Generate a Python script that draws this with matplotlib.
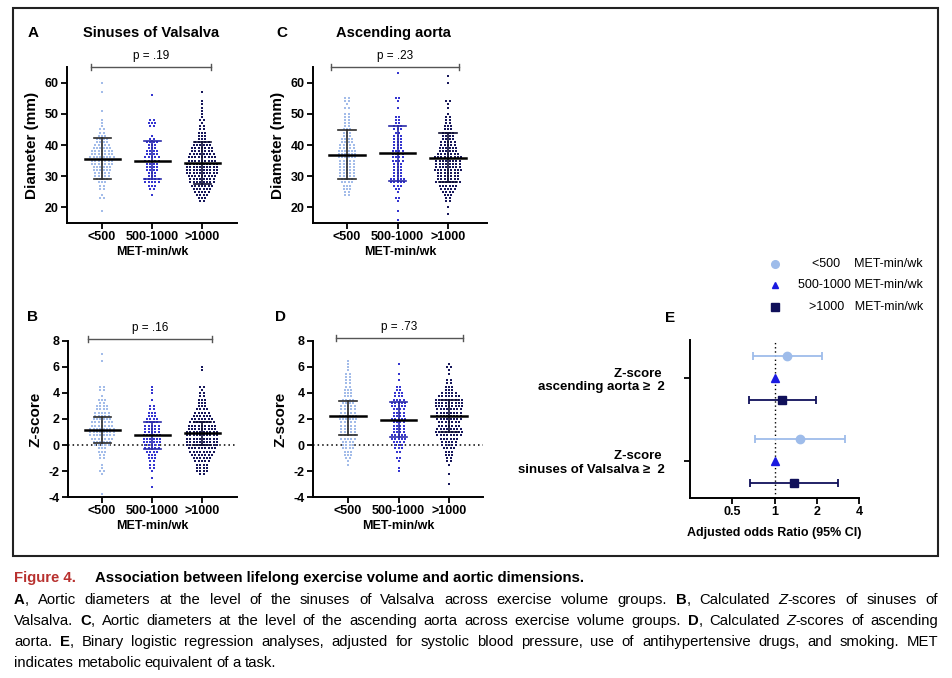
import numpy as np
import matplotlib
matplotlib.use('Agg')
import matplotlib.pyplot as plt
from matplotlib.patches import Rectangle
from matplotlib.font_manager import FontProperties, findfont

W, H = 952, 678
plt.rcParams['font.family'] = ['Liberation Sans', 'DejaVu Sans']
plt.rcParams['axes.unicode_minus'] = False

groups = ['<500', '500-1000', '>1000']
dot_colors = ['#a3bce9', '#3535d0', '#17175a']
sd_colors = ['#2b2b2b', '#2a2aa8', '#0e0e33']

# ---- A: sinuses of Valsalva diameter (mm), value / number of subjects ----
a_vals = [[19, 23, 24, 26, 27, 28, 29, 30, 31, 32, 33, 34, 35, 36, 37, 38, 39, 40, 41, 42, 43, 44, 45, 46, 47, 48, 51, 57, 60],
          [24, 26, 27, 28, 29, 30, 31, 32, 33, 34, 35, 36, 37, 38, 39, 40, 41, 42, 43, 46, 47, 48, 56],
          [22, 23, 24, 25, 26, 27, 28, 29, 30, 31, 32, 33, 34, 35, 36, 37, 38, 39, 40, 41, 42, 43, 44, 45, 46, 47, 48, 49, 50, 51, 52, 53, 54, 57]]
a_counts = [[1, 2, 1, 2, 2, 3, 4, 5, 5, 6, 6, 7, 7, 8, 7, 7, 6, 5, 4, 4, 3, 2, 2, 1, 1, 1, 1, 1, 1],
            [1, 2, 3, 5, 5, 3, 3, 4, 4, 4, 5, 5, 4, 4, 3, 3, 4, 2, 1, 2, 3, 2, 1],
            [2, 3, 4, 5, 6, 7, 8, 8, 9, 10, 10, 10, 10, 9, 9, 8, 7, 7, 6, 5, 3, 3, 3, 2, 2, 1, 2, 1, 1, 1, 1, 1, 1, 1]]
a_mean = [35.6, 35.0, 34.3]
a_hi = [42.3, 41.2, 40.9]
a_lo = [29.0, 29.0, 27.4]

# ---- C: ascending aorta diameter (mm) ----
c_vals = [[24, 25, 26, 27, 28, 29, 30, 31, 32, 33, 34, 35, 36, 37, 38, 39, 40, 41, 42, 43, 44, 45, 46, 47, 48, 49, 50, 52, 53, 54, 55],
          [16, 19, 22, 23, 25, 26, 27, 28, 29, 30, 31, 32, 33, 34, 35, 36, 37, 38, 39, 40, 41, 42, 43, 44, 45, 46, 47, 48, 49, 52, 54, 55, 63],
          [18, 20, 22, 23, 24, 25, 26, 27, 28, 29, 30, 31, 32, 33, 34, 35, 36, 37, 38, 39, 40, 41, 42, 43, 44, 45, 46, 47, 48, 49, 50, 52, 53, 54, 60, 62]]
c_counts = [[2, 2, 3, 3, 4, 4, 5, 5, 5, 5, 5, 5, 6, 6, 6, 5, 5, 4, 4, 3, 3, 3, 2, 2, 2, 2, 2, 2, 1, 2, 2],
            [1, 1, 1, 2, 1, 2, 3, 5, 5, 3, 3, 3, 3, 3, 4, 4, 4, 4, 3, 3, 3, 3, 3, 2, 3, 3, 2, 2, 2, 1, 1, 2, 1],
            [1, 1, 2, 2, 3, 4, 5, 6, 8, 7, 7, 7, 9, 8, 8, 8, 9, 7, 6, 6, 5, 5, 4, 4, 4, 3, 3, 2, 2, 2, 1, 1, 1, 2, 1, 1]]
c_mean = [36.9, 37.4, 35.7]
c_hi = [44.7, 46.0, 43.8]
c_lo = [29.0, 28.6, 28.2]

# ---- B: Z-score sinuses of Valsalva ----
b_vals = [[-3.75, -2.25, -2.0, -1.75, -1.5, -1.0, -0.75, -0.5, -0.25, 0.0, 0.25, 0.5, 0.75, 1.0, 1.25, 1.5, 1.75, 2.0, 2.25, 2.5, 2.75, 3.0, 3.25, 3.5, 3.75, 4.25, 4.5, 6.5, 7.0],
          [-3.25, -2.5, -2.0, -1.75, -1.5, -1.25, -1.0, -0.75, -0.5, -0.25, 0.0, 0.25, 0.5, 0.75, 1.0, 1.25, 1.5, 1.75, 2.0, 2.25, 2.5, 2.75, 3.0, 3.5, 4.0, 4.25, 4.5],
          [-2.25, -2.0, -1.75, -1.5, -1.25, -1.0, -0.75, -0.5, -0.25, 0.0, 0.25, 0.5, 0.75, 1.0, 1.25, 1.5, 1.75, 2.0, 2.25, 2.5, 2.75, 3.0, 3.25, 3.5, 3.75, 4.0, 4.25, 4.5, 5.75, 6.0]]
b_counts = [[1, 1, 2, 1, 1, 2, 2, 3, 3, 5, 6, 7, 8, 8, 8, 7, 7, 6, 5, 5, 4, 4, 2, 3, 1, 2, 2, 1, 1],
            [1, 1, 1, 2, 2, 2, 3, 3, 4, 5, 5, 6, 6, 6, 5, 5, 5, 4, 4, 3, 3, 2, 2, 1, 1, 1, 1],
            [2, 4, 4, 4, 5, 6, 7, 8, 9, 10, 10, 10, 10, 10, 9, 9, 8, 7, 6, 5, 4, 3, 3, 3, 2, 2, 1, 2, 1, 1]]
b_mean = [1.18, 0.74, 0.90]
b_hi = [2.13, 1.74, 1.79]
b_lo = [0.18, -0.28, -0.03]

# ---- D: Z-score ascending aorta ----
d_vals = [[-1.5, -1.25, -1.0, -0.75, -0.5, -0.25, 0.0, 0.25, 0.5, 0.75, 1.0, 1.25, 1.5, 1.75, 2.0, 2.25, 2.5, 2.75, 3.0, 3.25, 3.5, 3.75, 4.0, 4.25, 4.5, 4.75, 5.0, 5.25, 5.5, 5.75, 6.0, 6.25, 6.5],
          [-2.0, -1.75, -1.25, -1.0, -0.5, -0.25, 0.0, 0.25, 0.5, 0.75, 1.0, 1.25, 1.5, 1.75, 2.0, 2.25, 2.5, 2.75, 3.0, 3.25, 3.5, 3.75, 4.0, 4.25, 4.5, 5.0, 5.5, 6.25],
          [-3.0, -2.25, -1.5, -1.25, -1.0, -0.75, -0.5, -0.25, 0.0, 0.25, 0.5, 0.75, 1.0, 1.25, 1.5, 1.75, 2.0, 2.25, 2.5, 2.75, 3.0, 3.25, 3.5, 3.75, 4.0, 4.25, 4.5, 4.75, 5.0, 5.5, 5.75, 6.0, 6.25]]
d_counts = [[1, 1, 2, 3, 3, 4, 4, 4, 5, 5, 5, 5, 5, 5, 6, 6, 5, 5, 5, 4, 4, 3, 3, 3, 2, 2, 2, 2, 2, 1, 1, 1, 1],
            [1, 1, 1, 2, 2, 3, 3, 4, 5, 5, 4, 4, 4, 4, 5, 4, 4, 4, 5, 5, 4, 3, 3, 2, 2, 1, 1, 1],
            [1, 1, 1, 2, 2, 3, 3, 4, 5, 5, 6, 8, 9, 8, 7, 7, 8, 8, 8, 8, 9, 9, 9, 7, 5, 3, 3, 2, 2, 1, 1, 2, 1]]
d_mean = [2.23, 1.95, 2.23]
d_hi = [3.36, 3.33, 3.50]
d_lo = [0.74, 0.62, 1.00]

# ---- E: adjusted odds ratios (reference 500-1000) ----
outcomes = ['Z-score \nsinuses of Valsalva \u2265  2', 'Z-score \nascending aorta \u2265  2']
or_low = [1.51, 1.22]
or_low_ci_lo = [0.73, 0.70]
or_low_ci_hi = [3.17, 2.17]
or_ref = [1.0, 1.0]
or_high = [1.37, 1.14]
or_high_ci_lo = [0.67, 0.66]
or_high_ci_hi = [2.83, 1.97]
legend_labels = ['<500    MET-min/wk', '500-1000 MET-min/wk', '>1000   MET-min/wk']
e_colors = ['#9ebcea', '#1a1ae0', '#10105a']

caption_title = 'Association between lifelong exercise volume and aortic dimensions.'
caption_lines = [
    '^A^, Aortic diameters at the level of the sinuses of Valsalva across exercise volume groups. ^B^, Calculated ~Z~-scores of sinuses of',
    'Valsalva. ^C^, Aortic diameters at the level of the ascending aorta across exercise volume groups. ^D^, Calculated ~Z~-scores of ascending',
    'aorta. ^E^, Binary logistic regression analyses, adjusted for systolic blood pressure, use of antihypertensive drugs, and smoking. MET',
    'indicates metabolic equivalent of a task.',
]

fig = plt.figure(figsize=(W / 100, H / 100), dpi=100)


def px(x0, y0, x1, y1):
    return [x0 / W, 1 - y1 / H, (x1 - x0) / W, (y1 - y0) / H]


def style_axis(ax):
    for s in ['top', 'right']:
        ax.spines[s].set_visible(False)
    for s in ['left', 'bottom']:
        ax.spines[s].set_linewidth(1.4)
    ax.tick_params(direction='out', length=4, width=1.3, labelsize=9, pad=2)
    for lab in ax.get_xticklabels() + ax.get_yticklabels():
        lab.set_fontweight('bold')


def dot_panel(box, xlim, ylim, yticks, vals, counts, mean, hi, lo, ylabel, p_text, p_y, br, zero=False):
    ax = fig.add_axes(px(*box))
    for i in range(3):
        xs, ys = [], []
        for v, n in zip(vals[i], counts[i]):
            xs += list(i + (np.arange(n) - (n - 1) / 2) * 0.066)
            ys += [v] * n
        ax.scatter(xs, ys, s=3, marker='s', color=dot_colors[i], linewidths=0, zorder=2)
        ax.plot([i - 0.35, i + 0.35], [mean[i]] * 2, color='black', lw=1.8, zorder=4)
        ax.plot([i, i], [lo[i], hi[i]], color=sd_colors[i], lw=1.2, zorder=3)
        for yy in (lo[i], hi[i]):
            ax.plot([i - 0.17, i + 0.17], [yy, yy], color=sd_colors[i], lw=1.2, zorder=3)
    if zero:
        ax.axhline(0, color='black', ls=(0, (1, 2)), lw=1.1, zorder=1)
    ax.set_xlim(xlim)
    ax.set_ylim(ylim)
    ax.set_yticks(yticks)
    ax.set_xticks([0, 1, 2])
    ax.set_xticklabels(groups)
    style_axis(ax)
    ax.set_xlabel('MET-min/wk', fontsize=9, fontweight='bold', labelpad=2)
    ax.set_ylabel(ylabel, fontsize=11, fontweight='bold', labelpad=4)
    # significance bracket
    cap = (ylim[1] - ylim[0]) * 3 / (box[3] - box[1])
    ax.plot(br, [p_y, p_y], color='#555555', lw=1, clip_on=False)
    for xx in br:
        ax.plot([xx, xx], [p_y - cap, p_y + cap], color='#555555', lw=1, clip_on=False)
    ax.annotate(p_text, ((br[0] + br[1]) / 2, p_y), xytext=(0, 3.5), textcoords='offset points',
                ha='center', va='bottom', fontsize=8.5, annotation_clip=False)
    return ax


dot_panel((67, 67, 237, 223), (-0.7, 2.7), (15, 65), [20, 30, 40, 50, 60], a_vals, a_counts,
          a_mean, a_hi, a_lo, 'Diameter (mm)', 'p = .19', 65.1, (-0.22, 2.18))
dot_panel((313, 67, 487, 223), (-0.673, 2.77), (15, 65), [20, 30, 40, 50, 60], c_vals, c_counts,
          c_mean, c_hi, c_lo, 'Diameter (mm)', 'p = .23', 65.1, (-0.32, 2.22))
dot_panel((68, 341, 237, 497), (-0.68, 2.7), (-4, 8), [-4, -2, 0, 2, 4, 6, 8], b_vals, b_counts,
          b_mean, b_hi, b_lo, 'Z-score', 'p = .16', 8.15, (-0.28, 2.2), zero=True)
dot_panel((313, 341, 483, 497), (-0.693, 2.67), (-4, 8), [-4, -2, 0, 2, 4, 6, 8], d_vals, d_counts,
          d_mean, d_hi, d_lo, 'Z-score', 'p = .73', 8.25, (-0.24, 2.28), zero=True)

# forest plot
ax = fig.add_axes(px(690, 340, 859, 498))
y = np.arange(len(outcomes))
ax.axvline(1, color='black', ls=(0, (1, 2)), lw=1, zorder=1)
ax.errorbar(or_low, y + 0.27, xerr=[np.subtract(or_low, or_low_ci_lo), np.subtract(or_low_ci_hi, or_low)],
            fmt='o', color=e_colors[0], ms=6, capsize=3, elinewidth=1.3, capthick=1.3, zorder=3)
ax.plot(or_ref, y, '^', color=e_colors[1], ms=5.5, zorder=3)
ax.errorbar(or_high, y - 0.27, xerr=[np.subtract(or_high, or_high_ci_lo), np.subtract(or_high_ci_hi, or_high)],
            fmt='s', color=e_colors[2], ms=6, capsize=3, elinewidth=1.3, capthick=1.3, zorder=3)
ax.set_xscale('log', base=2)
ax.set_xlim(0.25, 4)
ax.set_ylim(-0.446, 1.458)
ax.set_xticks([0.5, 1, 2, 4])
ax.set_xticklabels(['0.5', '1', '2', '4'])
ax.minorticks_off()
ax.set_yticks(y)
ax.set_yticklabels(outcomes, fontsize=9.5, multialignment='right')
style_axis(ax)
ax.tick_params(axis='y', pad=14, labelsize=9.5)
ax.set_xlabel('Adjusted odds Ratio (95% CI)', fontsize=9, fontweight='bold', labelpad=6)

# legend for E
lax = fig.add_axes(px(765, 254, 930, 317))
lax.axis('off')
lax.set_xlim(0, 1)
lax.set_ylim(2.5, -0.5)
for i, (m, lab) in enumerate(zip(['o', '^', 's'], legend_labels)):
    lax.plot(0.06, i, m, color=e_colors[i], ms=5.5 if m != '^' else 5)
    lax.text(0.958, i, lab, ha='right', va='center', fontsize=9)

# panel letters and titles
for lab, x, yy in [('A', 33, 33), ('C', 282, 33), ('B', 33, 317), ('D', 280, 317), ('E', 670, 318)]:
    fig.text(x / W, 1 - yy / H, lab, ha='center', va='center', fontsize=11, fontweight='bold')
fig.text(151 / W, 1 - 33 / H, 'Sinuses of Valsalva', ha='center', va='center', fontsize=10.5, fontweight='bold')
fig.text(393 / W, 1 - 33 / H, 'Ascending aorta', ha='center', va='center', fontsize=10.5, fontweight='bold')

fig.add_artist(Rectangle((13 / W, 1 - 556 / H), (938 - 13) / W, (556 - 8) / H, transform=fig.transFigure,
                         fill=False, lw=1.5, ec='#222222'))

# caption
try:
    findfont(FontProperties(family='Liberation Sans Narrow'), fallback_to_default=False)
    cap_family = ['Liberation Sans Narrow', 'Liberation Sans']
    cap_size = 11.5
except ValueError:
    cap_family = ['Liberation Sans', 'DejaVu Sans']
    cap_size = 10.7


def parse(line):
    words, cur, buf, bold, ital = [], [], '', False, False
    for ch in line:
        if ch in '^~ ':
            if buf:
                cur.append((buf, bold, ital))
                buf = ''
            if ch == '^':
                bold = not bold
            elif ch == '~':
                ital = not ital
            elif cur:
                words.append(cur)
                cur = []
        else:
            buf += ch
    if buf:
        cur.append((buf, bold, ital))
    if cur:
        words.append(cur)
    return words


renderer = fig.canvas.get_renderer()


def caption_line(line, ypix, justify, x0=14, x1=938):
    objs = []
    for w in parse(line):
        objs.append([fig.text(0, 1 - ypix / H, s, fontsize=cap_size, family=cap_family,
                              fontweight='bold' if b else 'normal', fontstyle='italic' if it else 'normal',
                              va='center', ha='left') for s, b, it in w])
    widths = [[t.get_window_extent(renderer).width for t in seg] for seg in objs]
    total = sum(sum(ws) for ws in widths)
    gap = (x1 - x0 - total) / (len(objs) - 1) if justify else cap_size * 0.26 * 100 / 72
    x = x0
    for seg, ws in zip(objs, widths):
        for t, w in zip(seg, ws):
            t.set_x(x / W)
            x += w
        x += gap


fig.text(14 / W, 1 - 578 / H, 'Figure 4.', fontsize=cap_size, family=cap_family, fontweight='bold',
         color='#b8312f', va='center', ha='left')
fig.text(95 / W, 1 - 578 / H, caption_title, fontsize=cap_size, family=cap_family, fontweight='bold',
         va='center', ha='left')
for k, line in enumerate(caption_lines):
    caption_line(line, 600 + 21 * k, justify=k < len(caption_lines) - 1)

fig.savefig('out.png', dpi=100)
